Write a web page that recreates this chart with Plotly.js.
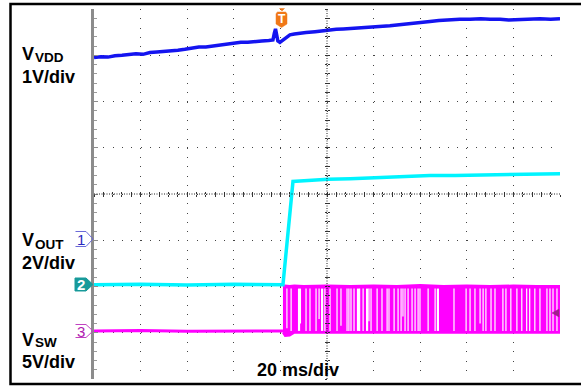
<!DOCTYPE html>
<html><head><meta charset="utf-8">
<script src="https://cdn.plot.ly/plotly-3.0.1.min.js"></script>
<style>html,body{margin:0;padding:0;background:#fff;}#chart{width:581px;height:386px;}</style>
</head><body><div id="chart"></div>
<script>
// x: time in ms (20 ms/div, 10 div); y: screen position in divisions (0..8)
const vddTime = [0,3,6,9,12,15,18,21,24,27,30,33,36,39,42,45,48,51,54,57,60,63,66,69,72,75,76.8,77.4,77.9,78.4,78.9,79.8,81.1,82.4,84.1,86,88.4,91,94.9,98,100.4,104,107,110,114,118.5,122,127,131,135.6,140,144.2,148,152.8,157,161.4,166,170,174.3,178,182.8,187,191.4,196,200];
const vddDiv  = [6.95,6.97,6.96,6.99,7.00,7.01,7.03,7.02,7.06,7.07,7.08,7.10,7.11,7.13,7.15,7.18,7.18,7.20,7.22,7.23,7.25,7.28,7.28,7.30,7.31,7.32,7.33,7.48,7.57,7.44,7.31,7.28,7.33,7.39,7.44,7.46,7.48,7.49,7.51,7.53,7.55,7.56,7.57,7.58,7.59,7.60,7.61,7.64,7.66,7.69,7.71,7.73,7.75,7.77,7.78,7.78,7.79,7.78,7.78,7.76,7.77,7.78,7.79,7.78,7.79];

const voutTime = [0,20,40,60,81.1,82.1,83.5,84.5,85.4,88.4,95,100.4,110,120,131.5,144.2,155,165.7,180,200];
const voutDiv  = [2.04,2.05,2.03,2.05,2.04,2.57,3.29,3.87,4.27,4.28,4.30,4.32,4.33,4.35,4.36,4.40,4.40,4.41,4.43,4.44];

const swIdleTime = [0,20,40,60,81.1];
const swIdleDiv  = [1.04,1.05,1.03,1.04,1.04];
const swBandTime = [81.1,82,84,86,90,100,110,120,130,140,150,160,170,180,190,200];
const swHighDiv  = [2.00,2.01,2.00,2.01,2.00,2.01,2.00,2.01,2.00,2.02,2.00,2.01,2.00,2.01,2.00,2.00];
const swLowDiv   = [1.00,0.93,0.94,1.00,1.00,1.00,1.00,0.99,1.00,1.00,1.00,0.99,1.00,1.00,1.00,1.00];
const swGapTime  = [82.8,84.6,88.0,88.6,91.0,92.7,95.3,96.6,97.9,99.1,101.3,104.3,106.0,108.6,109.4,110.3,111.6,113.3,114.0,115.5,117.2,118.0,118.9,121.5,123.6,125.8,126.6,128.8,130.5,131.8,132.6,133.5,134.8,136.5,137.8,139.1,139.9,143.4,146.4,147.6,154.5,159.7,161.4,163.5,165.7,167.0,168.2,170.4,172.1,175.5,176.8,178.9,181.5,183.6,185.7,187.0,189.2,191.4,194.4,195.7,197.0,198.7];
const swGapWide  = [0,0,1,0,0,0,0,0,1,0,0,0,0,0,0,0,0,1,0,0,1,0,0,0,0,0,0,0,0,0,0,0,0,0,0,0,0,0,0,1,0,0,0,0,0,0,0,0,0,0,0,0,0,0,0,0,0,0,0,0,0,0];
const swGapBottom = [1.10,1.04,1.04,1.20,1.04,1.04,1.04,1.30,1.04,1.04,1.04,1.04,1.15,1.04,1.04,1.04,1.04,1.04,1.04,1.04,1.04,1.25,1.04,1.04,1.04,1.04,1.04,1.04,1.04,1.04,1.35,1.04,1.04,1.04,1.04,1.04,1.04,1.04,1.04,1.04,1.04,1.04,1.04,1.04,1.20,1.04,1.04,1.04,1.04,1.04,1.04,1.04,1.04,1.04,1.04,1.04,1.04,1.04,1.04,1.04,1.04,1.04];

const channelMain = ['<b>V</b>','<b>1V/div</b>','<b>V</b>','<b>2V/div</b>','<b>V</b>','<b>5V/div</b>'];
const channelSub  = ['<b>VDD</b>','<b>OUT</b>','<b>SW</b>'];
const timebaseLabel = '<b>20 ms/div</b>';
const markerLabels = ['1','2','3'];

// pixel -> paper helpers for decorations
const L=94, R=560, T=9, B=379;
const X = p => (p-L)/(R-L);
const Y = p => (B-p)/(B-T);
const path = (pts, close) => pts.map((p,i)=>(i?'L':'M')+X(p[0]).toFixed(5)+','+Y(p[1]).toFixed(5)).join(' ')+(close?' Z':'');

function gapSeg(wide){
  const xs=[], ys=[];
  swGapTime.forEach((t,i)=>{ if(swGapWide[i]===wide){ xs.push(t,t,null); ys.push(swGapBottom[i],1.955,null);} });
  return {x:xs,y:ys};
}
const g0=gapSeg(0), g1=gapSeg(1);

const traces = [
  {x:swIdleTime, y:swIdleDiv, mode:'lines', line:{color:'#ff00ff', width:3}, hoverinfo:'skip'},
  {x:swBandTime, y:swHighDiv, mode:'lines', line:{color:'#ff00ff', width:3}, hoverinfo:'skip'},
  {x:swBandTime, y:swLowDiv, mode:'lines', fill:'tonexty', fillcolor:'#ff00ff', line:{color:'#ff00ff', width:2}, hoverinfo:'skip'},
  {x:g0.x, y:g0.y, mode:'lines', line:{color:'#ffffff', width:1.2}, connectgaps:false, hoverinfo:'skip'},
  {x:g1.x, y:g1.y, mode:'lines', line:{color:'#ffffff', width:2.2}, connectgaps:false, hoverinfo:'skip'},
  {x:voutTime, y:voutDiv, mode:'lines', line:{color:'#00f4ff', width:3.5}, hoverinfo:'skip'},
  {x:vddTime, y:vddDiv, mode:'lines', line:{color:'#1414f0', width:3.5}, hoverinfo:'skip'},
  // empty carriers so the centre-crosshair tick axes get drawn
  {x:[], y:[], xaxis:'x2', yaxis:'y2', mode:'lines', hoverinfo:'skip'},
  {x:[], y:[], xaxis:'x3', yaxis:'y3', mode:'lines', hoverinfo:'skip'}
];

const F = {family:'Arial', color:'#000'};
const mainY = [54,76.5,239.5,263,339.5,361.5];
const annotations = channelMain.map((t,i)=>({xref:'paper',yref:'paper',x:X(21),y:Y(mainY[i]),xanchor:'left',yanchor:'middle',showarrow:false,borderpad:0,text:t,font:Object.assign({size:18},F)}));
const subY = [57.5,245,342.5];
channelSub.forEach((t,i)=>annotations.push({xref:'paper',yref:'paper',x:X(34),y:Y(subY[i]),xanchor:'left',yanchor:'middle',showarrow:false,borderpad:0,text:t,font:Object.assign({size:13.5},F)}));
annotations.push({xref:'paper',yref:'paper',x:X(255),y:Y(370),xanchor:'left',yanchor:'middle',showarrow:false,text:timebaseLabel,font:Object.assign({size:18},F)});
const mkY=[239,284.5,331], mkCol=['#2a2ac0','#ffffff','#b020b0'];
markerLabels.forEach((t,i)=>annotations.push({xref:'paper',yref:'paper',x:X(81),y:Y(mkY[i]),xanchor:'center',yanchor:'middle',showarrow:false,borderpad:0,text:i==1?'<b>'+t+'</b>':t,font:{family:'Arial',size:15,color:mkCol[i]}}));
annotations.push({xref:'paper',yref:'paper',x:X(281.5),y:Y(19),xanchor:'center',yanchor:'middle',showarrow:false,borderpad:0,text:'<b>T</b>',font:{family:'Arial',size:12,color:'#fff'}});

const shapes = [
  {type:'line',xref:'x',yref:'paper',x0:100,x1:100,y0:0,y1:1,line:{color:'#222',width:1,dash:'1px,1.5px'}},
  {type:'line',xref:'paper',yref:'y',x0:0,x1:1,y0:4,y1:4,line:{color:'#222',width:1,dash:'1px,1.5px'}},
  {type:'path',xref:'paper',yref:'paper',path:path([[75.5,231.5],[86,231.5],[93,239],[86,246.5],[75.5,246.5]],false),line:{color:'#6a6ad8',width:1}},
  {type:'path',xref:'paper',yref:'paper',path:path([[75,278],[86,278],[93,284.5],[86,291],[75,291]],true),fillcolor:'#189a9a',line:{color:'#189a9a',width:1}},
  {type:'path',xref:'paper',yref:'paper',path:path([[75.5,324.5],[86,324.5],[93,331],[86,337.5],[75.5,337.5]],false),line:{color:'#c040c0',width:1}},
  {type:'path',xref:'paper',yref:'paper',path:path([[279.5,8.5],[284.5,8.5],[282,11]],true),fillcolor:'#f07818',line:{color:'#f07818',width:0.5}},
  {type:'path',xref:'paper',yref:'paper',path:path([[276,13.5],[277.5,12],[285.5,12],[287,13.5],[287,24],[281.5,27.5],[276,24]],true),fillcolor:'#f07818',line:{color:'#f07818',width:0.5}},
  {type:'path',xref:'paper',yref:'paper',path:path([[559,309],[552,313],[559,317]],true),fillcolor:'#a0208c',line:{color:'#a0208c',width:0.5}},
  {type:'rect',xref:'paper',yref:'paper',x0:X(10.5),x1:X(600),y0:Y(4),y1:Y(384),line:{color:'#000',width:2.5}}
];

const hid = {showticklabels:false, showgrid:false, zeroline:false, showline:false, fixedrange:true};
const layout = {
  width:581, height:386, margin:{l:L,r:581-R,t:T,b:386-B}, paper_bgcolor:'#fff', plot_bgcolor:'#fff',
  showlegend:false,
  xaxis:{range:[0,200], tick0:0, dtick:20, showgrid:true, gridcolor:'#444', gridwidth:1, griddash:'1px,8.25px', zeroline:false, showline:false, ticks:'', showticklabels:false, fixedrange:true},
  yaxis:{range:[0,8], tick0:0, dtick:1, showgrid:true, gridcolor:'#444', gridwidth:1, griddash:'1px,8.32px', zeroline:false, showline:true, linecolor:'#8c8c8c', linewidth:3, ticks:'inside', ticklen:4, tickwidth:1, tickcolor:'#8c8c8c', showticklabels:false, fixedrange:true,
         minor:{dtick:0.2, ticks:'inside', ticklen:3, tickcolor:'#9a9a9a', showgrid:false}},
  xaxis2:Object.assign({overlaying:'x', anchor:'free', position:0.5, range:[0,200], tick0:0, dtick:4, ticks:'outside', ticklen:2, tickwidth:1, tickcolor:'#333'}, hid),
  yaxis2:Object.assign({overlaying:'y', anchor:'free', position:X(327), range:[0,8], tick0:0, dtick:0.2, ticks:'outside', ticklen:2, tickwidth:1, tickcolor:'#333'}, hid),
  xaxis3:Object.assign({overlaying:'x', anchor:'free', position:0.5, range:[0,200], tick0:0, dtick:4, ticks:'inside', ticklen:2, tickwidth:1, tickcolor:'#333', side:'bottom'}, hid),
  yaxis3:Object.assign({overlaying:'y', anchor:'free', position:X(327), range:[0,8], tick0:0, dtick:0.2, ticks:'inside', ticklen:2, tickwidth:1, tickcolor:'#333'}, hid),
  annotations, shapes
};
Plotly.newPlot('chart', traces, layout, {staticPlot:true, displayModeBar:false});
</script></body></html>
